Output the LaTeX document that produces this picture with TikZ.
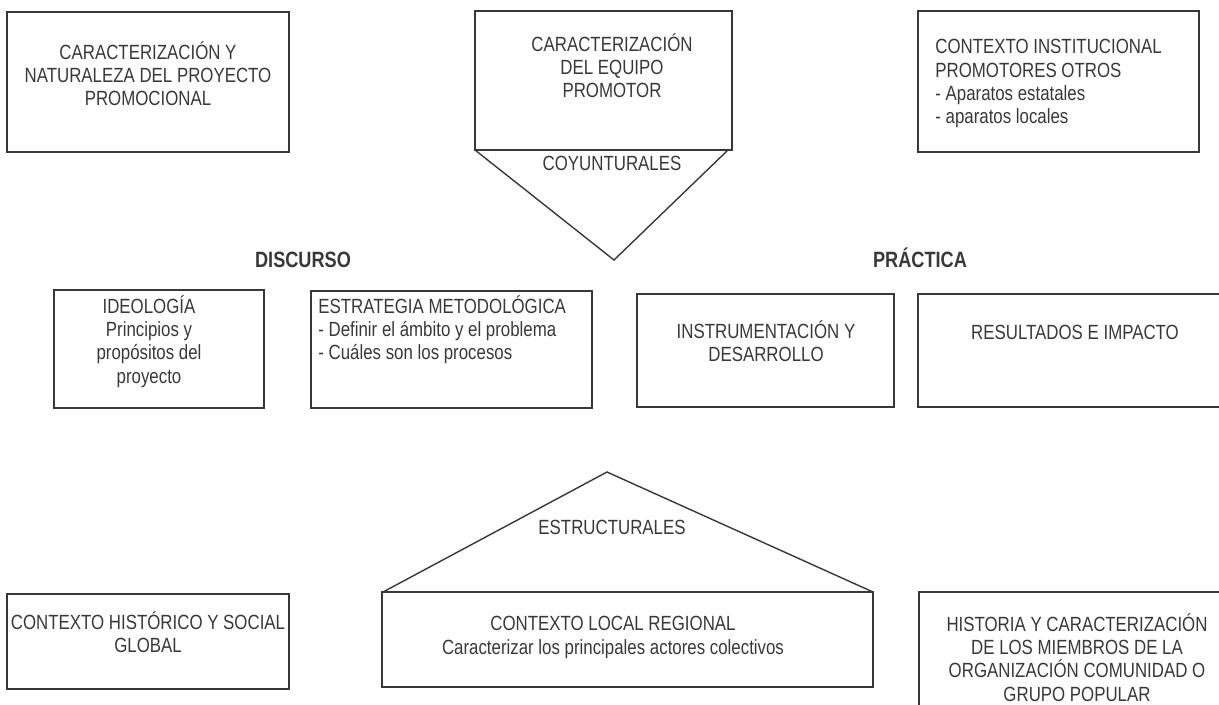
\documentclass[tikz,border=0pt]{standalone}
\usepackage{fontspec}
\setmainfont{Liberation Sans}[FakeStretch=0.82]
\definecolor{ink}{gray}{0.22}
\tikzset{
  box/.style={draw=ink, line width=0.8pt},
  txt/.style={text=ink, inner sep=0pt, align=center},
  head/.style={text=ink, inner sep=0pt, font=\fontsize{12.6pt}{14pt}\selectfont\bfseries}
}
\begin{document}
\begin{tikzpicture}[x=0.02cm, y=-0.02cm,
    font=\fontsize{11.7pt}{13.3pt}\selectfont]
      \clip (0,0) rectangle (1219,704);
      % boxes
      \draw[box] (7,12) rectangle (289,152);
      \draw[box] (475,11) rectangle (732,150);
      \draw[box] (475,150) -- (614,260) -- (728,150);
      \draw[box] (918,11) rectangle (1199,152);
      \draw[box] (54,290) rectangle (264,408);
      \draw[box] (311,291) rectangle (592,408);
      \draw[box] (637,294) rectangle (894,407);
      \draw[box] (918,294) rectangle (1232,407);
      \draw[box] (7,594) rectangle (289,689);
      \draw[box] (383,592) -- (607,472) -- (873,592);
      \draw[box] (382,592) rectangle (873,687);
      \draw[box] (919,592) rectangle (1235,720);
      % texts
      \path
        (148,41) node[txt, anchor=north] (naturaleza)
          {CARACTERIZACIÓN Y\\NATURALEZA DEL PROYECTO\\PROMOCIONAL}
        (612,33) node[txt, anchor=north] (equipo)
          {CARACTERIZACIÓN\\DEL EQUIPO\\PROMOTOR}
        (612,163) node[txt] (coyunt) {COYUNTURALES}
        (935,39) node[txt, align=left, anchor=north west] (instit)
          {CONTEXTO INSTITUCIONAL\\PROMOTORES OTROS\\- Aparatos estatales\\- aparatos locales}
        (303,260) node[head] (discurso) {DISCURSO}
        (920,258) node[head] (practica) {PRÁCTICA}
        (149,295) node[txt, anchor=north] (ideologia)
          {IDEOLOGÍA\\Principios y\\propósitos del\\proyecto}
        (318,295) node[txt, align=left, anchor=north west] (estrategia)
          {ESTRATEGIA METODOLÓGICA\\- Definir el ámbito y el problema\\- Cuáles son los procesos}
        (766,320) node[txt, anchor=north] (instrum)
          {INSTRUMENTACIÓN Y\\DESARROLLO}
        (1075,332) node[txt] (result) {RESULTADOS E IMPACTO}
        (148,611) node[txt, anchor=north] (historico)
          {CONTEXTO HISTÓRICO Y SOCIAL\\GLOBAL}
        (612,527) node[txt] (estruct) {ESTRUCTURALES}
        (613,616) node[txt, anchor=north] (local)
          {CONTEXTO LOCAL REGIONAL\\Caracterizar los principales actores colectivos}
        (1077,613) node[txt, anchor=north] (historia)
          {HISTORIA Y CARACTERIZACIÓN\\DE LOS MIEMBROS DE LA\\ORGANIZACIÓN COMUNIDAD O\\GRUPO POPULAR};
    \end{tikzpicture}
\end{document}
